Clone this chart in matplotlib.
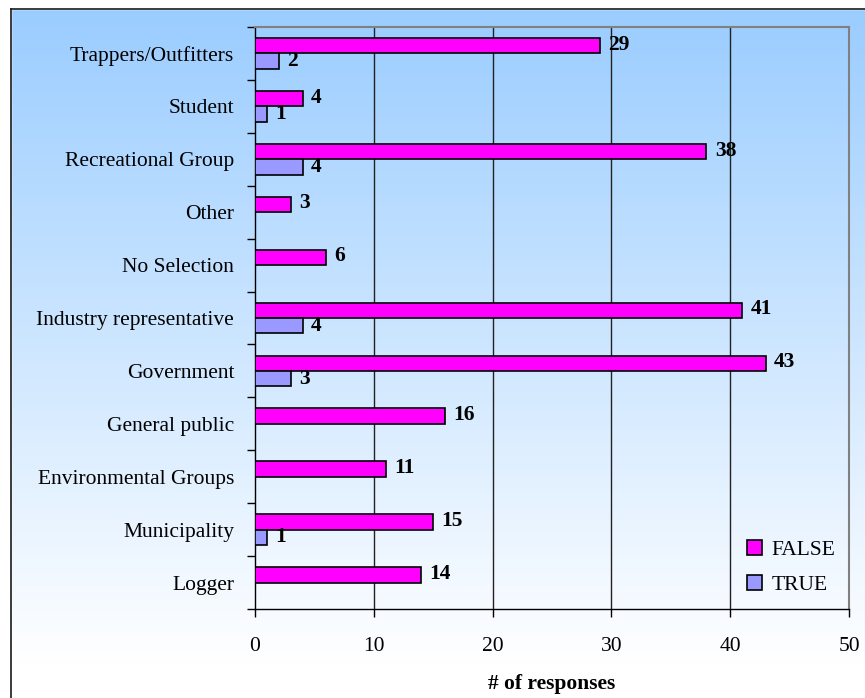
import matplotlib
matplotlib.use("Agg")
import matplotlib.pyplot as plt
import numpy as np
from matplotlib.patches import Rectangle, Patch

categories = ["Trappers/Outfitters", "Student", "Recreational Group", "Other", "No Selection",
              "Industry representative", "Government", "General public", "Environmental Groups",
              "Municipality", "Logger"]
false_vals = [29, 4, 38, 3, 6, 41, 43, 16, 11, 15, 14]
true_vals = [2, 1, 4, 0, 0, 4, 3, 0, 0, 1, 0]
xticks = [0, 10, 20, 30, 40, 50]

plt.rcParams['font.family'] = ['Liberation Serif', 'DejaVu Serif']

W, H = 865, 698
fig = plt.figure(figsize=(W / 100, H / 100), dpi=100)

# gradient background
bg = fig.add_axes([0, 0, 1, 1], zorder=0)
bg.set_axis_off()
top = np.array([0x99, 0xCC, 0xFF]) / 255
bot = np.array([1.0, 1.0, 1.0])
t = np.linspace(0, 1, 256)[:, None]
t = np.clip(t * 1.05, 0, 1)
grad = (top[None, :] * (1 - t) + bot[None, :] * t)[:, None, :]
bg.imshow(grad, aspect='auto', extent=[0, 1, 0, 1], origin='upper')
bg.set_xlim(0, 1)
bg.set_ylim(0, 1)
# white margins + border
bg.add_patch(Rectangle((0, 1 - 9 / H), 1, 9 / H, color='white', zorder=2))
bg.add_patch(Rectangle((0, 0), 11 / W, 1, color='white', zorder=2))
bg.plot([11 / W, 11 / W], [0, 1 - 9 / H], color='#1a1a1a', lw=1.2, zorder=3)
bg.plot([11 / W, 1], [1 - 9 / H, 1 - 9 / H], color='#1a1a1a', lw=1.2, zorder=3)

left, right, topp, bottom = 255 / W, 849 / W, 1 - 27 / H, 1 - 609 / H
ax = fig.add_axes([left, bottom, right - left, topp - bottom], zorder=1)
ax.patch.set_alpha(0)

FS = 15.5
n = len(categories)
y = np.arange(n)
h = 0.29
ax.barh(y - h / 2, false_vals, height=h, color='#FF00FF', edgecolor='black', lw=1.2,
        label='FALSE', zorder=3)
tv = np.array(true_vals)
mask = tv > 0
ax.barh(y[mask] + h / 2, tv[mask], height=h, color='#9999FF', edgecolor='black', lw=1.2,
        label='TRUE', zorder=3)

for yi, v in zip(y, false_vals):
    ax.text(v + 0.7, yi - h / 2 - 0.02, str(v), va='center', ha='left', fontsize=FS,
            fontweight='bold', zorder=4)
for yi, v in zip(y, true_vals):
    if v > 0:
        ax.text(v + 0.7, yi + h / 2 + 0.0, str(v), va='center', ha='left', fontsize=FS,
                fontweight='bold', zorder=4)

ax.set_xlim(0, 50)
ax.set_ylim(n - 0.5, -0.5)
ax.set_xticks(xticks)
ax.set_xticklabels([str(x) for x in xticks], fontsize=FS)
ax.tick_params(axis='x', direction='out', length=6, width=1, pad=14)
ax.set_yticks(np.arange(-0.5, n, 1))
ax.set_yticklabels([])
ax.set_yticks(y, minor=True)
ax.set_yticklabels(categories, minor=True, fontsize=FS)
ax.tick_params(axis='y', which='major', direction='out', length=6, width=1)
ax.tick_params(axis='y', which='minor', length=0, pad=15)

for xv in xticks[1:-1]:
    ax.axvline(xv, color='#222222', lw=1, zorder=1)
for s in ['top', 'right']:
    ax.spines[s].set_color('#808080')
    ax.spines[s].set_linewidth(1.5)
for s in ['left', 'bottom']:
    ax.spines[s].set_color('black')
    ax.spines[s].set_linewidth(1)

ax.set_xlabel('# of responses', fontsize=FS, fontweight='bold', labelpad=13)

handles = [Patch(facecolor='#FF00FF', edgecolor='black', lw=1.2),
           Patch(facecolor='#9999FF', edgecolor='black', lw=1.2)]
ax.legend(handles, ['FALSE', 'TRUE'], loc='lower right', bbox_to_anchor=(1.01, -0.01),
          frameon=False, fontsize=FS, handlelength=0.7, handleheight=0.7,
          handletextpad=0.45, labelspacing=0.7)

fig.savefig('out.png', dpi=100)
